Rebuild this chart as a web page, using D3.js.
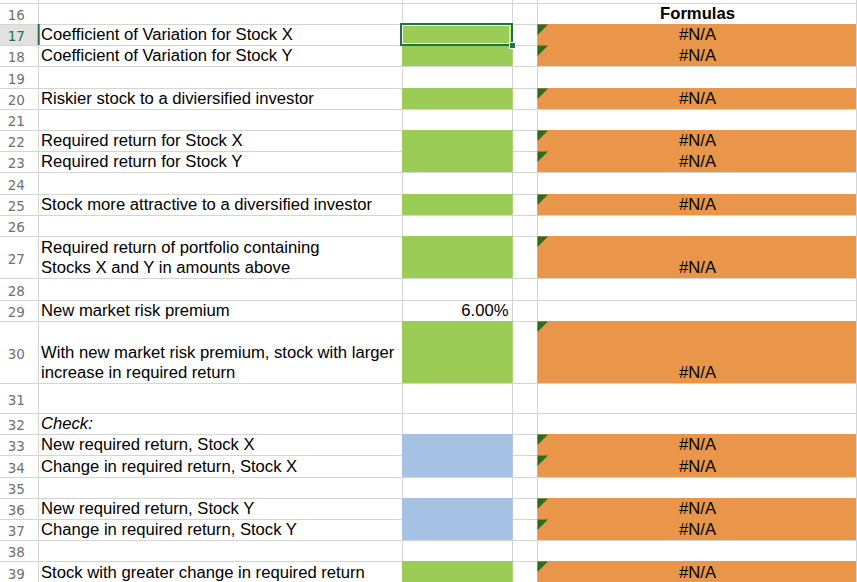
<!DOCTYPE html>
<html>
<head>
<meta charset="utf-8">
<script src="https://cdn.jsdelivr.net/npm/d3@7"></script>
<style>
  html, body { margin: 0; padding: 0; background: #fff; overflow: hidden; }
  svg { display: block; }
</style>
</head>
<body>
<script>
// ---- data ----
const rowNumbers = [16,17,18,19,20,21,22,23,24,25,26,27,28,29,30,31,32,33,34,35,36,37,38,39];
const labelsA = [
  "",
  "Coefficient of Variation for Stock X",
  "Coefficient of Variation for Stock Y",
  "",
  "Riskier stock to a diviersified investor",
  "",
  "Required return for Stock X",
  "Required return for Stock Y",
  "",
  "Stock more attractive to a diversified investor",
  "",
  "Required return of portfolio containing\nStocks X and Y in amounts above",
  "",
  "New market risk premium",
  "With new market risk premium, stock with larger\nincrease in required return",
  "",
  "Check:",
  "New required return, Stock X",
  "Change in required return, Stock X",
  "",
  "New required return, Stock Y",
  "Change in required return, Stock Y",
  "",
  "Stock with greater change in required return"
];
const cellKindB = ["", "answer","answer","", "answer","", "answer","answer","", "answer","", "answer","", "", "answer","", "", "check","check","", "check","check","", "answer"];
const valuesB = ["", "", "", "", "", "", "", "", "", "", "", "", "", "6.00%", "", "", "", "", "", "", "", "", "", ""];
const valuesD = ["Formulas", "#N/A","#N/A","", "#N/A","", "#N/A","#N/A","", "#N/A","", "#N/A","", "", "#N/A","", "", "#N/A","#N/A","", "#N/A","#N/A","", "#N/A"];

// ---- layout ----
const rowUnits = [1,1,1,1,1,1,1,1,1,1,1,2,1,1,2.93,1.415,1,1,1,1,1,1,1,1];
const W = 857, H = 582;
const colX = { hdr: 0, A: 38, B: 402, C: 512, D: 537, E: 856 };
const fills = { answer: "#9bcd56", check: "#a6c3e6", formula: "#e9964a" };
const grid = "#d4d4d4";
const font = "'Liberation Sans', Arial, sans-serif";
const fs = 16.65;

const cum = [0].concat(Array.from(d3.cumsum(rowUnits)));
const y = d3.scaleLinear().domain([0, cum[cum.length - 1]]).range([3.3, 3.3 + 21.2 * cum[cum.length - 1]]);

const rows = rowNumbers.map((n, i) => ({
  n, i,
  top: Math.floor(y(cum[i])),
  bottom: Math.floor(y(cum[i + 1])),
  a: labelsA[i], kindB: cellKindB[i], b: valuesB[i], d: valuesD[i]
}));
const base = r => r.bottom - 5.5;

const svg = d3.select("body").append("svg").attr("width", W).attr("height", H);

// row header selected background
svg.selectAll("rect.hdrsel").data(rows.filter(r => r.n === 17)).join("rect")
  .attr("x", 0).attr("y", r => r.top).attr("width", colX.A).attr("height", r => r.bottom - r.top)
  .attr("fill", "#e1e1e1");

// horizontal gridlines
svg.selectAll("line.h").data(rows.map(r => r.top).concat([rows[rows.length - 1].bottom])).join("line")
  .attr("x1", 0).attr("x2", W).attr("y1", d => d + 0.5).attr("y2", d => d + 0.5)
  .attr("stroke", grid).attr("stroke-width", 1);
// vertical gridlines
svg.selectAll("line.v").data([colX.A, colX.B, colX.C, colX.D, colX.E]).join("line")
  .attr("x1", d => d + 0.5).attr("x2", d => d + 0.5).attr("y1", 0).attr("y2", H)
  .attr("stroke", grid).attr("stroke-width", 1);

// column B fills
svg.selectAll("rect.b").data(rows.filter(r => r.kindB)).join("rect")
  .attr("x", colX.B).attr("y", r => r.top).attr("width", colX.C - colX.B + 0.7)
  .attr("height", r => r.bottom - r.top).attr("fill", r => fills[r.kindB]);

// column D fills
const dRows = rows.filter(r => r.d === "#N/A");
svg.selectAll("rect.d").data(dRows).join("rect")
  .attr("x", colX.D + 0.3).attr("y", r => r.top).attr("width", colX.E - colX.D - 0.3)
  .attr("height", r => r.bottom - r.top).attr("fill", fills.formula);

// error triangles
svg.selectAll("path.tri").data(dRows).join("path")
  .attr("d", r => `M${colX.D + 0.5},${r.top + 0.5} L${colX.D + 11},${r.top + 0.5} L${colX.D + 0.5},${r.top + 11} Z`)
  .attr("fill", "#2f6b1f");

// row header selected border
svg.selectAll("rect.hdrbar").data(rows.filter(r => r.n === 17)).join("rect")
  .attr("x", 37.7).attr("y", r => r.top).attr("width", 2).attr("height", r => r.bottom - r.top)
  .attr("fill", "#217346");

// row numbers (vertically centred)
svg.selectAll("text.rn").data(rows).join("text")
  .attr("x", 16.3).attr("y", r => (r.top + r.bottom) / 2 + 1.5)
  .attr("text-anchor", "middle").attr("dominant-baseline", "central")
  .attr("font-family", "'DejaVu Sans', sans-serif").attr("font-size", 13.5)
  .attr("fill", r => r.n === 17 ? "#217346" : "#707070")
  .text(r => r.n);

// column A labels (bottom aligned, possibly two lines)
const aText = svg.selectAll("text.a").data(rows.filter(r => r.a)).join("text")
  .attr("font-family", font).attr("font-size", fs).attr("fill", "#000")
  .attr("font-style", r => r.a === "Check:" ? "italic" : "normal");
aText.selectAll("tspan").data(r => {
  const lines = r.a.split("\n");
  return lines.map((t, k) => ({ t, base: base(r) - (lines.length - 1 - k) * 20 }));
}).join("tspan")
  .attr("x", 41).attr("y", d => d.base).text(d => d.t);

// column B values
svg.selectAll("text.b").data(rows.filter(r => r.b)).join("text")
  .attr("x", colX.C - 3.5).attr("y", base)
  .attr("text-anchor", "end").attr("font-family", font).attr("font-size", fs).attr("fill", "#000")
  .text(r => r.b);

// column D values
svg.selectAll("text.d").data(rows.filter(r => r.d)).join("text")
  .attr("x", (colX.D + colX.E) / 2 + 1).attr("y", base)
  .attr("text-anchor", "middle").attr("font-family", font).attr("font-size", fs).attr("fill", "#000")
  .attr("font-weight", r => r.d === "Formulas" ? "bold" : "normal")
  .text(r => r.d);

// active cell selection (B17)
const sel = rows.find(r => r.n === 17);
svg.append("rect")
  .attr("x", colX.B - 1).attr("y", sel.top).attr("width", colX.C - colX.B + 1).attr("height", sel.bottom - sel.top)
  .attr("fill", "none").attr("stroke", "#217346").attr("stroke-width", 2);
svg.append("rect")
  .attr("x", colX.B + 0.5).attr("y", sel.top + 1.5).attr("width", colX.C - colX.B - 2.5).attr("height", sel.bottom - sel.top - 3)
  .attr("fill", "none").attr("stroke", "#fff").attr("stroke-width", 1);
svg.append("rect")
  .attr("x", colX.C - 2.5).attr("y", sel.bottom - 2.5).attr("width", 6).attr("height", 6)
  .attr("fill", "#217346").attr("stroke", "#fff").attr("stroke-width", 1);
</script>
</body>
</html>
